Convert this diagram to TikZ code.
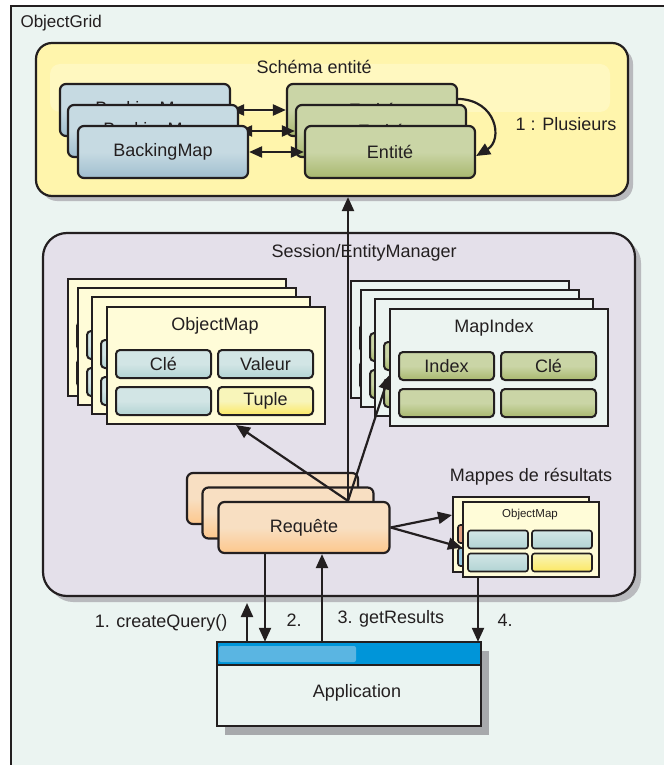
\documentclass[tikz,border=0pt]{standalone}
\usepackage{fontspec}
\setmainfont{Liberation Sans}
\usetikzlibrary{arrows.meta,positioning}

\definecolor{ink}{RGB}{35,31,32}
\definecolor{gridbg}{RGB}{235,244,241}
\definecolor{shadowgray}{RGB}{185,186,190}
\definecolor{schemafill}{RGB}{255,245,172}
\definecolor{schemalight}{RGB}{255,248,192}
\definecolor{sessfill}{RGB}{228,224,234}
\definecolor{bmtop}{RGB}{198,218,226}
\definecolor{bmbot}{RGB}{160,190,207}
\definecolor{entop}{RGB}{202,213,166}
\definecolor{enbot}{RGB}{168,184,110}
\definecolor{omapfill}{RGB}{255,252,216}
\definecolor{midxfill}{RGB}{236,244,241}
\definecolor{tealtop}{RGB}{210,229,229}
\definecolor{tealbot}{RGB}{178,211,211}
\definecolor{tupletop}{RGB}{248,245,186}
\definecolor{tuplebot}{RGB}{252,232,100}
\definecolor{rqtop}{RGB}{248,223,194}
\definecolor{rqbot}{RGB}{253,199,140}
\definecolor{appblue}{RGB}{0,149,217}
\definecolor{applight}{RGB}{90,181,226}
\definecolor{appshadow}{RGB}{167,169,172}
\definecolor{salmon}{RGB}{226,160,130}
\definecolor{paleblue}{RGB}{150,200,225}

\tikzset{
  lbl/.style={font=\fontsize{18}{21}\selectfont, text=ink},
  smalllbl/.style={font=\fontsize{11.5}{13}\selectfont, text=ink},
  arr/.style={draw=ink, line width=2.2pt, -{Triangle[length=14pt,width=12pt]}},
  dblarr/.style={draw=ink, line width=2.2pt, {Triangle[length=13pt,width=11pt]}-{Triangle[length=13pt,width=11pt]}},
  gbox/.style={rounded corners=6pt, draw=ink, line width=2.2pt, minimum width=170pt, minimum height=52pt, inner sep=0pt, lbl},
  bmbox/.style={gbox, top color=bmtop, bottom color=bmbot, middle color=bmtop},
  enbox/.style={gbox, top color=entop, bottom color=enbot, middle color=entop},
  rqbox/.style={gbox, minimum width=171pt, minimum height=51pt, top color=rqtop, bottom color=rqbot, middle color=rqtop},
  maprect/.style={draw=ink, line width=2pt, minimum width=218pt, minimum height=117pt, inner sep=0pt},
  cell/.style={rounded corners=4pt, draw=ink, line width=2pt, minimum width=95pt, minimum height=28pt, inner sep=0pt, lbl},
  tealcell/.style={cell, top color=tealtop, bottom color=tealbot, middle color=tealtop},
  tuplecell/.style={cell, top color=tupletop, bottom color=tuplebot, middle color=tupletop},
  greencell/.style={cell, top color=entop, bottom color=enbot, middle color=entop},
  resrect/.style={draw=ink, line width=2pt, fill=omapfill, minimum width=136pt, minimum height=75pt, inner sep=0pt},
  rescell/.style={rounded corners=2.5pt, draw=ink, line width=1.6pt, minimum width=60pt, minimum height=18pt, inner sep=0pt}
}

\begin{document}
\begin{tikzpicture}[x=1pt,y=-1pt]
  \useasboundingbox (0,0) rectangle (664,765);

  % ObjectGrid frame
  \fill[white] (0,0) rectangle (664,765);
  \fill[gridbg] (11,6) rectangle (664,765);
  \draw[ink, line width=2.8pt] (11,765) -- (11,6) -- (664,6);
  \node[lbl, font=\fontsize{17}{20}\selectfont, anchor=west] (og) at (17,23) {ObjectGrid};

  % Schema entite
  \fill[shadowgray, rounded corners=16pt] (41,48) rectangle (633,201);
  \node[draw=ink, line width=2.2pt, fill=schemafill, rounded corners=16pt,
        minimum width=592pt, minimum height=153pt] (schema) at (332,119.5) {};
  \fill[schemalight, rounded corners=10pt] (50,64) rectangle (610,112);
  \node[lbl, anchor=west] (schematitle) at (253,67) {Schéma entité};

  \node[bmbox] (bm1) at (145,110) {BackingMap};
  \node[enbox] (en1) at (372,110) {Entité};
  \draw[dblarr] (bm1) -- (en1);
  \node[bmbox] (bm2) at (153,131) {BackingMap};
  \node[enbox] (en2) at (381,131) {Entité};
  \draw[dblarr] (bm2) -- (en2);
  \node[bmbox] (bm3) at (163,152) {BackingMap};
  \node[enbox] (en3) at (390,152) {Entité};
  \draw[dblarr] (bm3) -- (en3);

  \draw[arr] ([yshift=-16pt]en1.north east) .. controls (497,100) and (503,140) .. ([yshift=-4pt]en3.east);
  \node[lbl] (plus) at (566,124) {1 : Plusieurs};

  % Session / EntityManager
  \fill[shadowgray, rounded corners=24pt] (49,239) rectangle (641,602);
  \node[draw=ink, line width=2.2pt, fill=sessfill, rounded corners=24pt,
        minimum width=592pt, minimum height=363pt] (session) at (339,414.5) {};
  \node[lbl, anchor=west] (sesstitle) at (268,253) {Session/EntityManager};

  % ObjectMap stack
  \foreach \i/\dx/\dy in {1/0/0,2/10/9,3/24/18}{
    \node[maprect, fill=omapfill] (omap\i) at ({177+\dx},{337.5+\dy}) {};
    \node[tealcell] at ([shift={(57.5,58)}]omap\i.north west) {};
    \node[tealcell] at ([shift={(57.5,95)}]omap\i.north west) {};
  }
  \node[maprect, fill=omapfill] (omap4) at (216,365.5) {};
  \node[lbl] (omaptitle) at ([shift={(109,20)}]omap4.north west) {ObjectMap};
  \node[tealcell] (omkey) at ([shift={(57.5,58)}]omap4.north west) {Clé};
  \node[tealcell] (omval) at ([shift={(159.5,58)}]omap4.north west) {Valeur};
  \node[tealcell] (omblank) at ([shift={(57.5,95)}]omap4.north west) {};
  \node[tuplecell] (omtuple) at ([shift={(159.5,95)}]omap4.north west) {Tuple};

  % MapIndex stack
  \foreach \i/\dx/\dy in {1/0/0,2/10/9,3/24/18}{
    \node[maprect, fill=midxfill] (midx\i) at ({460+\dx},{339.5+\dy}) {};
    \node[greencell] at ([shift={(57.5,58)}]midx\i.north west) {};
    \node[greencell] at ([shift={(57.5,95)}]midx\i.north west) {};
  }
  \node[maprect, fill=midxfill] (midx4) at (499,367.5) {};
  \node[lbl] (midxtitle) at ([shift={(105,20)}]midx4.north west) {MapIndex};
  \node[greencell] (mixidx) at ([shift={(57.5,58)}]midx4.north west) {Index};
  \node[greencell] (mixkey) at ([shift={(159.5,58)}]midx4.north west) {Clé};
  \node[greencell] (mixa) at ([shift={(57.5,95)}]midx4.north west) {};
  \node[greencell] (mixb) at ([shift={(159.5,95)}]midx4.north west) {};

  % Requete stack
  \node[rqbox] (rq1) at (272.5,498.5) {};
  \node[rqbox] (rq2) at (288,513) {};
  \node[rqbox] (rq3) at (304,527.5) {Requête};

  % Mappes de resultats
  \node[lbl] (restitle) at (531,477) {Mappes de résultats};
  \node[resrect] (res1) at (521,534) {};
  \node[rescell, fill=salmon] at ([shift={(-33,0)}]res1.center) {};
  \node[rescell, fill=paleblue] at ([shift={(-33,23)}]res1.center) {};
  \node[resrect] (res2) at (531,539.5) {};
  \node[smalllbl] (restxt) at ([shift={(-1,-24.5)}]res2.center) {ObjectMap};
  \node[rescell, top color=tealtop, bottom color=tealbot] (rc1) at ([shift={(-33,0)}]res2.center) {};
  \node[rescell, top color=tealtop, bottom color=tealbot] (rc2) at ([shift={(31,0)}]res2.center) {};
  \node[rescell, top color=tealtop, bottom color=tealbot] (rc3) at ([shift={(-33,23)}]res2.center) {};
  \node[rescell, top color=tupletop, bottom color=tuplebot] (rc4) at ([shift={(31,23)}]res2.center) {};

  % Application
  \fill[appshadow] (225,651) rectangle (489,735);
  \node[fill=gridbg, minimum width=264pt, minimum height=84pt, inner sep=0pt] (app) at (349,684) {};
  \fill[appblue] (app.north west) rectangle ([yshift=-23pt]app.north east);
  \fill[applight, rounded corners=2pt] (219,646) rectangle (356,662);
  \draw[ink, line width=2.2pt] (app.north west) rectangle (app.south east);
  \draw[ink, line width=2.2pt] ([yshift=-23pt]app.north west) -- ([yshift=-23pt]app.north east);
  \node[lbl] (apptitle) at (357,693) {Application};

  % Requete connectors
  \coordinate (fan) at ([xshift=44pt]rq3.north);
  \draw[arr] (fan) -- ([xshift=20pt]omap4.south);
  \draw[arr] (fan) -- (fan |- schema.south);
  \draw[arr] (fan) -- ([yshift=-8pt]midx4.west);
  \draw[arr] (rq3.east) -- ([yshift=19pt]res1.west);
  \draw[arr] (rq3.east) -- ([yshift=-8pt]res2.west);

  % Application calls
  \coordinate (cq) at (247,603);
  \draw[arr] (cq |- app.north) -- (cq);
  \node[lbl, anchor=east] (lcq) at (231,623) {1. createQuery()};
  \draw[arr] ([xshift=-39pt]rq3.south) -- ([xshift=-39pt]rq3.south |- app.north);
  \node[lbl, anchor=west] (ltwo) at (283,620) {2.};
  \draw[arr] ([xshift=18pt]rq3.south |- app.north) -- ([xshift=18pt]rq3.south);
  \node[lbl, anchor=west] (lthree) at (334,619) {3. getResults};
  \draw[arr] ([xshift=-53pt]res2.south) -- ([xshift=-53pt]res2.south |- app.north);
  \node[lbl, anchor=west] (lfour) at (494,620) {4.};
\end{tikzpicture}
\end{document}
